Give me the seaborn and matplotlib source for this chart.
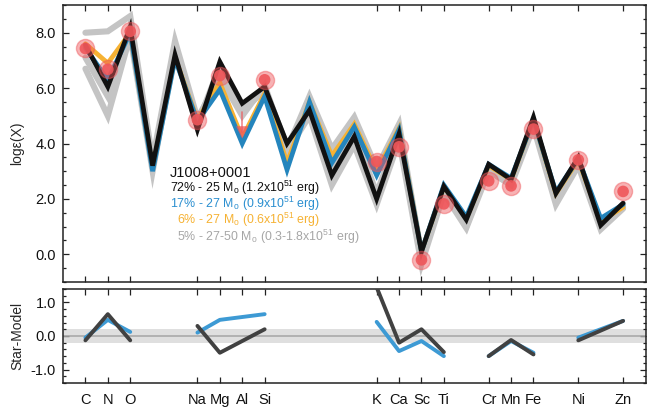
import numpy as np
import pandas as pd
import matplotlib
matplotlib.use("Agg")
import matplotlib.pyplot as plt
from matplotlib.ticker import MultipleLocator, FixedLocator
import seaborn as sns

# ---- data -------------------------------------------------------------
# atomic numbers covered by the supernova yield models (C ... Zn)
model_z = list(range(6, 31))

# model abundance patterns, log eps(X)
model_72 = [7.55, 6.05, 8.20, 3.20, 7.20, 4.50, 6.95, 5.45, 6.05, 4.00, 5.20, 2.85,
            4.25, 2.00, 4.35, 0.10, 2.45, 1.25, 3.25, 2.70, 4.95, 2.20, 3.50, 1.05, 1.85]
model_17 = [7.45, 6.30, 8.00, 3.00, 7.05, 4.80, 5.95, 4.00, 5.70, 3.05, 5.50, 3.30,
            4.60, 2.85, 4.50, 0.10, 2.50, 1.35, 3.25, 2.75, 4.85, 2.25, 3.45, 1.30, 1.80]
model_6 = [7.60, 6.90, 8.00, 3.10, 7.10, 4.85, 6.20, 4.20, 5.80, 3.30, 5.50, 3.55,
           4.70, 3.00, 4.55, 0.10, 2.45, 1.30, 3.20, 2.70, 4.85, 2.20, 3.40, 1.20, 1.70]
model_5a = [8.00, 8.05, 8.60, 3.40, 7.70, 4.90, 6.40, 5.00, 6.10, 3.80, 5.70, 3.80,
            4.95, 3.10, 4.70, 0.00, 2.30, 1.00, 3.10, 2.60, 4.80, 1.90, 3.40, 1.10, 1.80]
model_5b = [6.70, 5.00, 7.90, 3.00, 7.40, 4.60, 6.60, 5.20, 5.90, 3.70, 5.00, 2.50,
            3.95, 1.80, 4.10, -0.35, 2.20, 0.95, 3.00, 2.50, 4.60, 1.80, 3.20, 0.90, 1.65]
model_5c = [7.10, 5.70, 8.20, 3.20, 7.50, 4.70, 6.80, 5.30, 6.00, 3.90, 5.40, 3.00,
            4.40, 2.20, 4.40, -0.10, 2.35, 1.05, 3.15, 2.60, 4.75, 1.95, 3.35, 1.00, 1.70]

# measured abundances of the star
elements = ["C", "N", "O", "Na", "Mg", "Al", "Si", "K", "Ca", "Sc", "Ti",
            "Cr", "Mn", "Fe", "Ni", "Zn"]
element_z = [6, 7, 8, 11, 12, 13, 14, 19, 20, 21, 22, 24, 25, 26, 28, 30]
obs_z = [6, 7, 8, 11, 12, 14, 19, 20, 21, 22, 24, 25, 26, 28, 30]
obs_val = [7.43, 6.68, 8.05, 4.86, 6.45, 6.30, 3.35, 3.88, -0.20, 1.82,
           2.65, 2.47, 4.52, 3.41, 2.27]
# Al upper limit
limit_z = 13
limit_val = 4.40
limit_top = 5.15

# residuals (star - model), grouped into contiguous runs
res_z = [6, 7, 8, 11, 12, 14, 19, 20, 21, 22, 24, 25, 26, 28, 30]
res_seg = [0, 0, 0, 1, 1, 1, 2, 2, 2, 2, 3, 3, 3, 4, 4]
res_72 = [-0.13, 0.65, -0.13, 0.30, -0.50, 0.20, 1.45, -0.20, 0.20, -0.48,
          -0.60, -0.12, -0.55, -0.13, 0.45]
res_17 = [-0.05, 0.48, 0.12, 0.10, 0.48, 0.65, 0.42, -0.45, -0.15, -0.60,
          -0.60, -0.15, -0.50, -0.05, 0.45]

# ---- styling ----------------------------------------------------------
sns.set_theme(style="ticks")
plt.rcParams["font.family"] = ["Liberation Sans", "DejaVu Sans"]
plt.rcParams["mathtext.fontset"] = "custom"
plt.rcParams["mathtext.rm"] = "Liberation Sans"
plt.rcParams["mathtext.it"] = "Liberation Sans:italic"
plt.rcParams["mathtext.bf"] = "Liberation Sans:bold"
plt.rcParams["axes.unicode_minus"] = False

C_BLACK = "#111111"
C_BLUE = "#2485bd"
C_ORANGE = "#f6b233"
C_GRAY = "#c4c4c4"
C_RED = "#ef565a"
C_DARK = "#414141"
C_LBLUE = "#3d9ad4"

fig = plt.figure(figsize=(6.57, 4.07), dpi=100)
ax = fig.add_axes([0.0959, 0.3071, 0.8866, 0.6806])
axr = fig.add_axes([0.0959, 0.059, 0.8866, 0.231])

models = pd.DataFrame({
    "Z": model_z * 6,
    "val": model_5a + model_5b + model_5c + model_6 + model_17 + model_72,
    "model": (["5a"] * 25 + ["5b"] * 25 + ["5c"] * 25 + ["6"] * 25
              + ["17"] * 25 + ["72"] * 25),
})

styles = [("5a", C_GRAY, 4.4), ("5b", C_GRAY, 4.4), ("5c", C_GRAY, 4.4),
          ("6", C_ORANGE, 3.4), ("17", C_BLUE, 3.4), ("72", C_BLACK, 3.4)]
for name, col, lw in styles:
    sns.lineplot(data=models[models["model"] == name], x="Z", y="val", ax=ax,
                 color=col, lw=lw, sort=False, estimator=None,
                 solid_joinstyle="miter", zorder=2)

# observed abundances with a soft halo
obs = pd.DataFrame({"Z": obs_z, "val": obs_val})
sns.scatterplot(data=obs, x="Z", y="val", ax=ax, s=170, color=C_RED, alpha=0.45,
                edgecolor=C_RED, linewidth=1.0, zorder=4)
sns.scatterplot(data=obs, x="Z", y="val", ax=ax, s=70, color=C_RED, alpha=0.9,
                edgecolor="none", linewidth=0, zorder=5)
ax.plot([limit_z, limit_z], [limit_val, limit_top], color=C_RED, alpha=0.7,
        lw=1.2, zorder=4)
ax.scatter([limit_z], [limit_val], marker="v", s=80, color=C_RED, alpha=0.75,
           edgecolor="none", zorder=5)

ax.set_xlim(5, 31)
ax.set_ylim(-1, 9)
ax.yaxis.set_major_locator(MultipleLocator(2))
ax.yaxis.set_minor_locator(MultipleLocator(0.5))
ax.yaxis.set_major_formatter(matplotlib.ticker.FormatStrFormatter("%.1f"))
ax.xaxis.set_major_locator(FixedLocator(element_z))
ax.set_xticklabels([])
ax.set_xlabel("")
ax.set_ylabel("logε(X)", fontsize=10)

# model legend written as coloured text
fs = 8.9
ax.text(9.78, 2.80, "J1008+0001", fontsize=10.5, color="#111111", va="baseline")
ax.text(9.78, 2.26, r"72% - 25 M$_{\rm o}$ (1.2x10$^{51}$ erg)", fontsize=fs,
        color="#111111", va="baseline")
ax.text(9.78, 1.68, r"17% - 27 M$_{\rm o}$ (0.9x10$^{51}$ erg)", fontsize=fs,
        color="#2b8fd0", va="baseline")
ax.text(10.08, 1.08, r"6% - 27 M$_{\rm o}$ (0.6x10$^{51}$ erg)", fontsize=fs,
        color=C_ORANGE, va="baseline")
ax.text(10.08, 0.47, r"5% - 27-50 M$_{\rm o}$ (0.3-1.8x10$^{51}$ erg)", fontsize=fs,
        color="#a6a6a6", va="baseline")

# residual panel
axr.axhspan(-0.2, 0.2, color="#dfdfdf", lw=0, zorder=0)
axr.axhline(0, color="#a9a9a9", lw=1.2, zorder=1)
res = pd.DataFrame({"Z": res_z * 2, "res": res_17 + res_72,
                    "seg": res_seg * 2,
                    "model": ["17"] * len(res_z) + ["72"] * len(res_z)})
sns.lineplot(data=res[res["model"] == "17"], x="Z", y="res", units="seg",
             estimator=None, ax=axr, color=C_LBLUE, lw=2.8, zorder=2)
sns.lineplot(data=res[res["model"] == "72"], x="Z", y="res", units="seg",
             estimator=None, ax=axr, color=C_DARK, lw=2.8, zorder=3)
axr.set_xlim(5, 31)
axr.set_ylim(-1.4, 1.4)
axr.yaxis.set_major_locator(FixedLocator([-1.0, 0.0, 1.0]))
axr.yaxis.set_minor_locator(MultipleLocator(0.2))
axr.yaxis.set_major_formatter(matplotlib.ticker.FormatStrFormatter("%.1f"))
axr.xaxis.set_major_locator(FixedLocator(element_z))
axr.set_xticklabels(elements)
axr.set_xlabel("")
axr.set_ylabel("Star-Model", fontsize=10)

for a in (ax, axr):
    for sp in a.spines.values():
        sp.set_linewidth(1.1)
        sp.set_color("#222222")
        sp.set_visible(True)
    a.tick_params(which="both", direction="in", top=True, right=True,
                  colors="#222222", labelcolor="#111111", labelsize=10.5)
    a.tick_params(which="major", length=4, width=0.9)
    a.tick_params(which="minor", length=2.5, width=0.9)
    a.tick_params(axis="x", which="minor", top=False, bottom=False)
    a.tick_params(axis="x", pad=7.5)
    a.tick_params(axis="y", pad=5)

ax.yaxis.set_label_coords(-0.066, 0.5)
axr.yaxis.set_label_coords(-0.066, 0.5)

fig.savefig("out.png", dpi=100)
